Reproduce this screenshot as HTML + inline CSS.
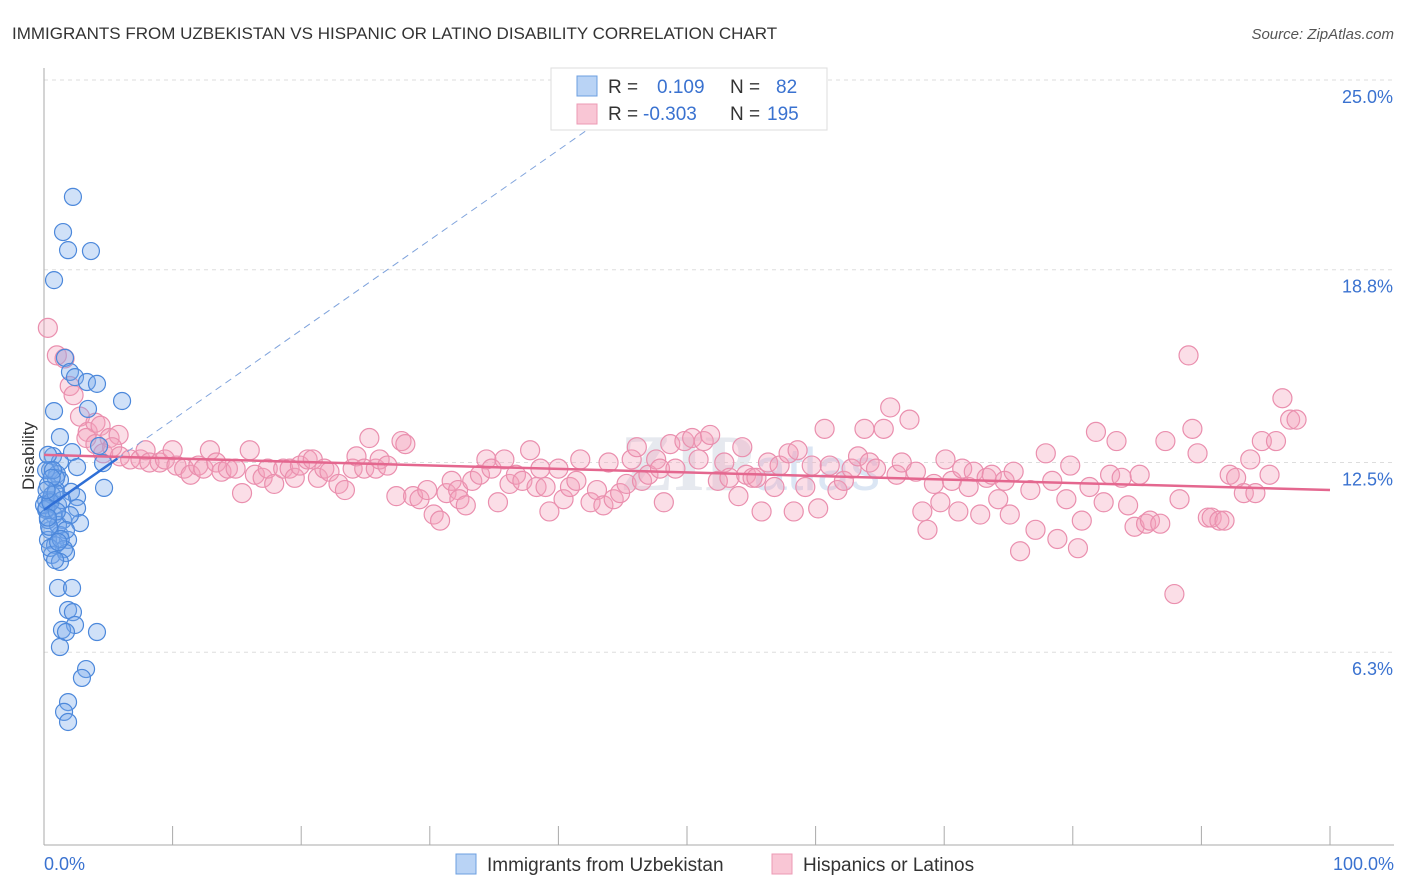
<!DOCTYPE html>
<html><head><meta charset="utf-8"><style>
body{margin:0;background:#fff;font-family:"Liberation Sans",sans-serif;}
#wrap{position:relative;width:1406px;height:892px;overflow:hidden;}
</style></head><body>
<div id="wrap">
<svg id="svg" width="1406" height="892" style="position:absolute;left:0;top:0">
<text x="12" y="39" font-size="17" fill="#333">IMMIGRANTS FROM UZBEKISTAN VS HISPANIC OR LATINO DISABILITY CORRELATION CHART</text>
<text x="1394" y="39" font-size="15" fill="#555" text-anchor="end" font-style="italic">Source: ZipAtlas.com</text>
<text x="34" y="456" font-size="17" fill="#333" text-anchor="middle" transform="rotate(-90 34 456)">Disability</text>
<text x="620" y="490" font-size="80" fill="#e6e9ef" font-family="Liberation Serif" font-weight="bold">ZIP<tspan font-family="Liberation Sans" font-weight="normal" font-size="60" fill="#dbe6f4">atlas</tspan></text>
<g id="grid"></g><g id="axes"></g><g id="pink"></g><g id="blue"></g><g id="lines"></g>
<g>
<rect x="551" y="68" width="276" height="62" fill="#fff" stroke="#ddd"/>
<rect x="577" y="76" width="20" height="20" fill="#b9d3f5" stroke="#6c9fe0"/>
<rect x="577" y="104" width="20" height="20" fill="#f9c6d5" stroke="#ec9ab4"/>
<text x="608" y="93" font-size="19" fill="#333">R = <tspan x="657" fill="#3a72d0">0.109</tspan><tspan x="730" fill="#333">N = </tspan><tspan x="776" fill="#3a72d0">82</tspan></text>
<text x="608" y="120" font-size="19" fill="#333">R = <tspan x="643" fill="#3a72d0">-0.303</tspan><tspan x="730" fill="#333">N = </tspan><tspan x="767" fill="#3a72d0">195</tspan></text>
</g>
<g>
<rect x="456" y="854" width="20" height="20" fill="#b9d3f5" stroke="#6c9fe0"/>
<text x="487" y="871" font-size="19" fill="#333">Immigrants from Uzbekistan</text>
<rect x="772" y="854" width="20" height="20" fill="#f9c6d5" stroke="#ec9ab4"/>
<text x="803" y="871" font-size="19" fill="#333">Hispanics or Latinos</text>
</g>
</svg>
</div>
<script>
const yTicks=[25.0,18.8,12.5,6.3];
const yTickLabels=["25.0%","18.8%","12.5%","6.3%"];
const xTickCount=10;
const blueX=[2.25,1.48,1.87,3.65,0.78,1.63,2.02,2.41,3.34,4.12,6.07,0.78,3.42,1.24,4.28,2.18,0.7,1.24,4.59,2.57,0.47,1.01,1.24,0.31,0.93,2.1,4.67,2.57,0.47,1.09,0.16,2.57,0.78,1.48,2.8,0.47,1.24,1.87,0.31,0.86,1.56,0.62,1.71,1.24,1.09,2.18,1.87,2.25,2.41,1.4,1.71,4.12,1.24,3.27,2.95,1.87,1.56,1.87,0.16,0.31,0.62,0.93,0,0.16,1.09,1.4,2.02,0.47,0.86,1.71,0.31,0.7,0.2,0.5,1.0,0.4,0.9,1.3,0.6,0.2,1.1,0.3];
const blueY=[21.18,20.03,19.44,19.41,18.46,15.92,15.46,15.29,15.13,15.07,14.51,14.18,14.25,13.33,13.04,12.84,12.71,12.52,12.48,12.35,12.25,12.12,11.93,11.76,11.6,11.54,11.67,11.37,11.27,11.11,10.95,11.01,10.78,10.62,10.52,10.29,10.13,9.97,9.97,9.8,9.67,9.48,9.54,9.25,8.4,8.4,7.68,7.61,7.19,7.03,6.96,6.96,6.47,5.75,5.46,4.67,4.35,4.02,11.27,10.62,11.44,11.99,11.11,12.25,10.46,11.27,10.78,9.71,9.31,10.29,12.75,12.25,11.0,11.2,10.9,10.4,11.5,10.0,12.0,11.6,9.9,10.7];
const pinkPts=[[0.3,16.9],[1.0,16.0],[1.6,15.9],[2.0,15.0],[2.3,14.7],[2.8,14.0],[3.4,13.5],[4.0,13.8],[4.4,13.7],[5.1,13.3],[5.8,13.4],[3.3,13.3],[4.0,13.1],[4.6,12.8],[5.3,13.0],[5.9,12.7],[6.7,12.6],[7.5,12.6],[7.9,12.9],[8.2,12.5],[9.0,12.5],[9.4,12.6],[10.0,12.9],[10.3,12.4],[10.9,12.3],[11.4,12.1],[12.0,12.4],[12.4,12.3],[12.9,12.9],[13.4,12.5],[13.8,12.2],[14.3,12.3],[14.9,12.3],[15.4,11.5],[16.0,12.9],[16.4,12.1],[17.0,12.0],[17.4,12.3],[17.9,11.8],[18.6,12.3],[19.1,12.3],[19.5,12.0],[19.9,12.4],[20.5,12.6],[20.9,12.6],[21.3,12.0],[21.8,12.3],[22.2,12.2],[22.9,11.8],[23.4,11.6],[24.0,12.3],[24.3,12.7],[24.9,12.3],[25.3,13.3],[25.8,12.3],[26.1,12.6],[26.7,12.4],[27.4,11.4],[27.8,13.2],[28.1,13.1],[28.7,11.4],[29.2,11.3],[29.8,11.6],[30.3,10.8],[30.8,10.6],[31.3,11.5],[31.7,11.9],[32.2,11.6],[32.3,11.3],[32.8,11.1],[33.3,11.9],[33.9,12.1],[34.4,12.6],[34.8,12.3],[35.3,11.2],[35.8,12.6],[36.2,11.8],[36.7,12.1],[37.2,11.9],[37.8,12.9],[38.3,11.7],[38.6,12.3],[39.0,11.7],[39.3,10.9],[40.0,12.3],[40.4,11.3],[40.9,11.7],[41.4,11.9],[41.7,12.6],[42.5,11.2],[43.0,11.6],[43.5,11.1],[43.9,12.5],[44.3,11.3],[44.8,11.5],[45.3,11.8],[45.7,12.6],[46.1,13.0],[46.5,11.9],[47.0,12.1],[47.6,12.6],[47.9,12.3],[48.2,11.2],[48.7,13.1],[49.1,12.3],[49.8,13.2],[50.4,13.3],[50.9,12.6],[51.3,13.2],[51.8,13.4],[52.4,11.9],[52.9,12.5],[53.3,12.0],[54.0,11.4],[54.3,13.0],[54.6,12.1],[55.1,12.0],[55.4,12.0],[55.8,10.9],[56.3,12.5],[56.8,11.7],[57.2,12.4],[57.9,12.8],[58.3,10.9],[58.6,12.9],[59.2,11.7],[59.7,12.4],[60.2,11.0],[60.7,13.6],[61.1,12.4],[61.7,11.6],[62.2,11.9],[62.8,12.3],[63.3,12.7],[63.8,13.6],[64.2,12.5],[64.7,12.3],[65.3,13.6],[65.8,14.3],[66.3,12.1],[66.7,12.5],[67.3,13.9],[67.8,12.2],[68.3,10.9],[68.7,10.3],[69.2,11.8],[69.7,11.2],[70.1,12.6],[70.6,11.9],[71.1,10.9],[71.4,12.3],[71.9,11.7],[72.3,12.2],[72.8,10.8],[73.3,12.0],[73.7,12.1],[74.2,11.3],[74.7,11.9],[75.1,10.8],[75.4,12.2],[75.9,9.6],[76.7,11.6],[77.1,10.3],[77.9,12.8],[78.4,11.9],[78.8,10.0],[79.5,11.3],[79.8,12.4],[80.4,9.7],[80.7,10.6],[81.3,11.7],[81.8,13.5],[82.4,11.2],[82.9,12.1],[83.4,13.2],[83.8,12.0],[84.3,11.1],[84.8,10.4],[85.2,12.1],[85.7,10.5],[86.0,10.6],[86.8,10.5],[87.2,13.2],[87.9,8.2],[88.3,11.3],[89.0,16.0],[89.3,13.6],[89.7,12.8],[90.5,10.7],[90.8,10.7],[91.4,10.6],[91.8,10.6],[92.2,12.1],[92.7,12.0],[93.3,11.5],[93.8,12.6],[94.2,11.5],[94.7,13.2],[95.3,12.1],[95.8,13.2],[96.3,14.6],[96.9,13.9],[97.4,13.9]];
const pinkTrend=[12.75,11.6];
const blueTrend=[10.95,0.294];
const NS="http://www.w3.org/2000/svg";
const X0=44,X1=1330,Y0=845,PXPER=30.6;
function sx(v){return X0+(X1-X0)*v/100;}
function sy(v){return Y0-v*PXPER;}
function mk(tag,attrs,parent){const e=document.createElementNS(NS,tag);for(const k in attrs)e.setAttribute(k,attrs[k]);parent.appendChild(e);return e;}
const grid=document.getElementById('grid'),axes=document.getElementById('axes');
yTicks.forEach((t,i)=>{
  const l=mk('line',{x1:X0,x2:1394,y1:sy(t),y2:sy(t),stroke:'#ddd','stroke-dasharray':'4,4'},grid);
  
  
  const tx=mk('text',{x:1393,y:sy(t)+23,'font-size':18,fill:'#3a72d0','text-anchor':'end'},axes);
  tx.textContent=yTickLabels[i];
  
  
});
const ax=mk('line',{x1:X0,x2:X0,y1:68,y2:Y0,stroke:'#aaa'},axes);


const bx=mk('line',{x1:X0,x2:1394,y1:Y0,y2:Y0,stroke:'#aaa'},axes);


for(let i=0;i<=xTickCount;i++){
  const v=i*100/xTickCount;
  const t=mk('line',{x1:sx(v),x2:sx(v),y1:826,y2:Y0,stroke:'#aaa'},axes);
  
  
}
const xl0=mk('text',{x:44,y:870,'font-size':18,fill:'#3a72d0'},axes);xl0.textContent='0.0%';


const xl1=mk('text',{x:1394,y:870,'font-size':18,fill:'#3a72d0','text-anchor':'end'},axes);xl1.textContent='100.0%';


const pg=document.getElementById('pink');
pinkPts.forEach(p=>{
  const c=mk('circle',{cx:sx(p[0]),cy:sy(p[1]),r:9.5,fill:'rgba(244,160,187,0.35)',stroke:'#ea8fae','stroke-width':1.2},pg);
  
  
});
const bg=document.getElementById('blue');
blueX.forEach((x,i)=>{
  const c=mk('circle',{cx:sx(x),cy:sy(blueY[i]),r:8.5,fill:'rgba(120,170,235,0.35)',stroke:'#4c88db','stroke-width':1.2},bg);
  
  
});
const lg=document.getElementById('lines');
const pl=mk('line',{x1:sx(0),y1:sy(pinkTrend[0]),x2:sx(100),y2:sy(pinkTrend[1]),stroke:'#e4678f','stroke-width':2.5},lg);


const bs=mk('line',{x1:sx(0),y1:sy(blueTrend[0]),x2:sx(5.7),y2:sy(blueTrend[0]+blueTrend[1]*5.7),stroke:'#2f6fd6','stroke-width':2.5},lg);


const bd=mk('line',{x1:sx(5.7),y1:sy(blueTrend[0]+blueTrend[1]*5.7),x2:sx(42.3),y2:sy(blueTrend[0]+blueTrend[1]*42.3),stroke:'#7fa3dc','stroke-width':1,'stroke-dasharray':'7,5'},lg);


</script>
</body></html>
